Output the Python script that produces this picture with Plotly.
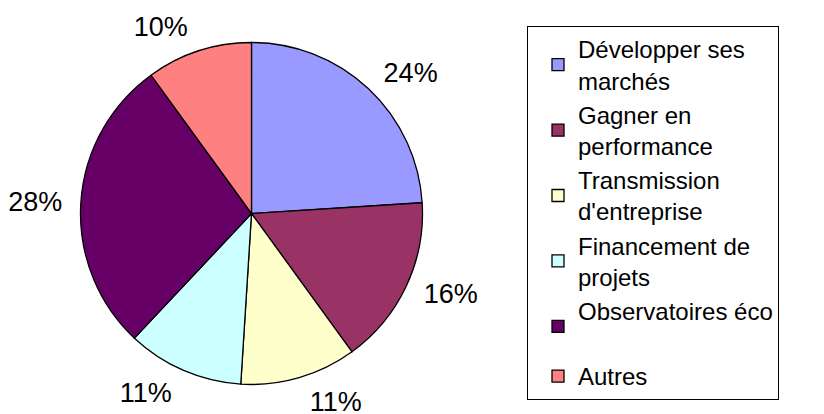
import plotly.graph_objects as go

categories = ["Développer ses<br>marchés", "Gagner en<br>performance", "Transmission<br>d'entreprise",
              "Financement de<br>projets", "Observatoires éco<br> ", "Autres"]
values = [24, 16, 11, 11, 28, 10]
colors = ["#9999FF", "#993366", "#FFFFCC", "#CCFFFF", "#660066", "#FF8080"]

W, H = 824, 414
OFF = 8  # page body margin offset
cx, cy, r = 251.5 - OFF, 213.5 - OFF, 171
r_lab = 182  # radius of the transparent pie that carries the outside labels


def dom(rad):
    return dict(x=[(cx - rad) / W, (cx + rad) / W], y=[1 - (cy + rad) / H, 1 - (cy - rad) / H])


font = "Liberation Sans, Arial, sans-serif"

# transparent pie used only to place the percentage labels slightly further out
fig = go.Figure(go.Pie(
    labels=categories,
    values=values,
    sort=False,
    direction="clockwise",
    rotation=0,
    marker=dict(colors=["rgba(0,0,0,0)"] * len(values), line=dict(width=0)),
    texttemplate="%{percent:.0%}",
    textposition="outside",
    outsidetextfont=dict(family=font, size=27, color="black"),
    domain=dom(r_lab),
    hoverinfo="skip",
    showlegend=False,
))

fig.add_trace(go.Pie(
    labels=categories,
    values=values,
    sort=False,
    direction="clockwise",
    rotation=0,
    marker=dict(colors=colors, line=dict(color="black", width=1.3)),
    textinfo="none",
    domain=dom(r),
    hoverinfo="label+percent",
))

fig.update_layout(
    width=W, height=H,
    margin=dict(l=0, r=0, t=0, b=0, autoexpand=False),
    paper_bgcolor="white",
    plot_bgcolor="white",
    showlegend=True,
    legend=dict(
        xref="paper", yref="paper",
        x=(527 - OFF) / W, y=1 - (26 - OFF) / H,
        xanchor="left", yanchor="top",
        bordercolor="black", borderwidth=1,
        bgcolor="white",
        font=dict(family=font, size=24, color="black"),
        indentation=10,
        maxheight=400,
        traceorder="normal",
    ),
)

fig.write_html("out.html")
